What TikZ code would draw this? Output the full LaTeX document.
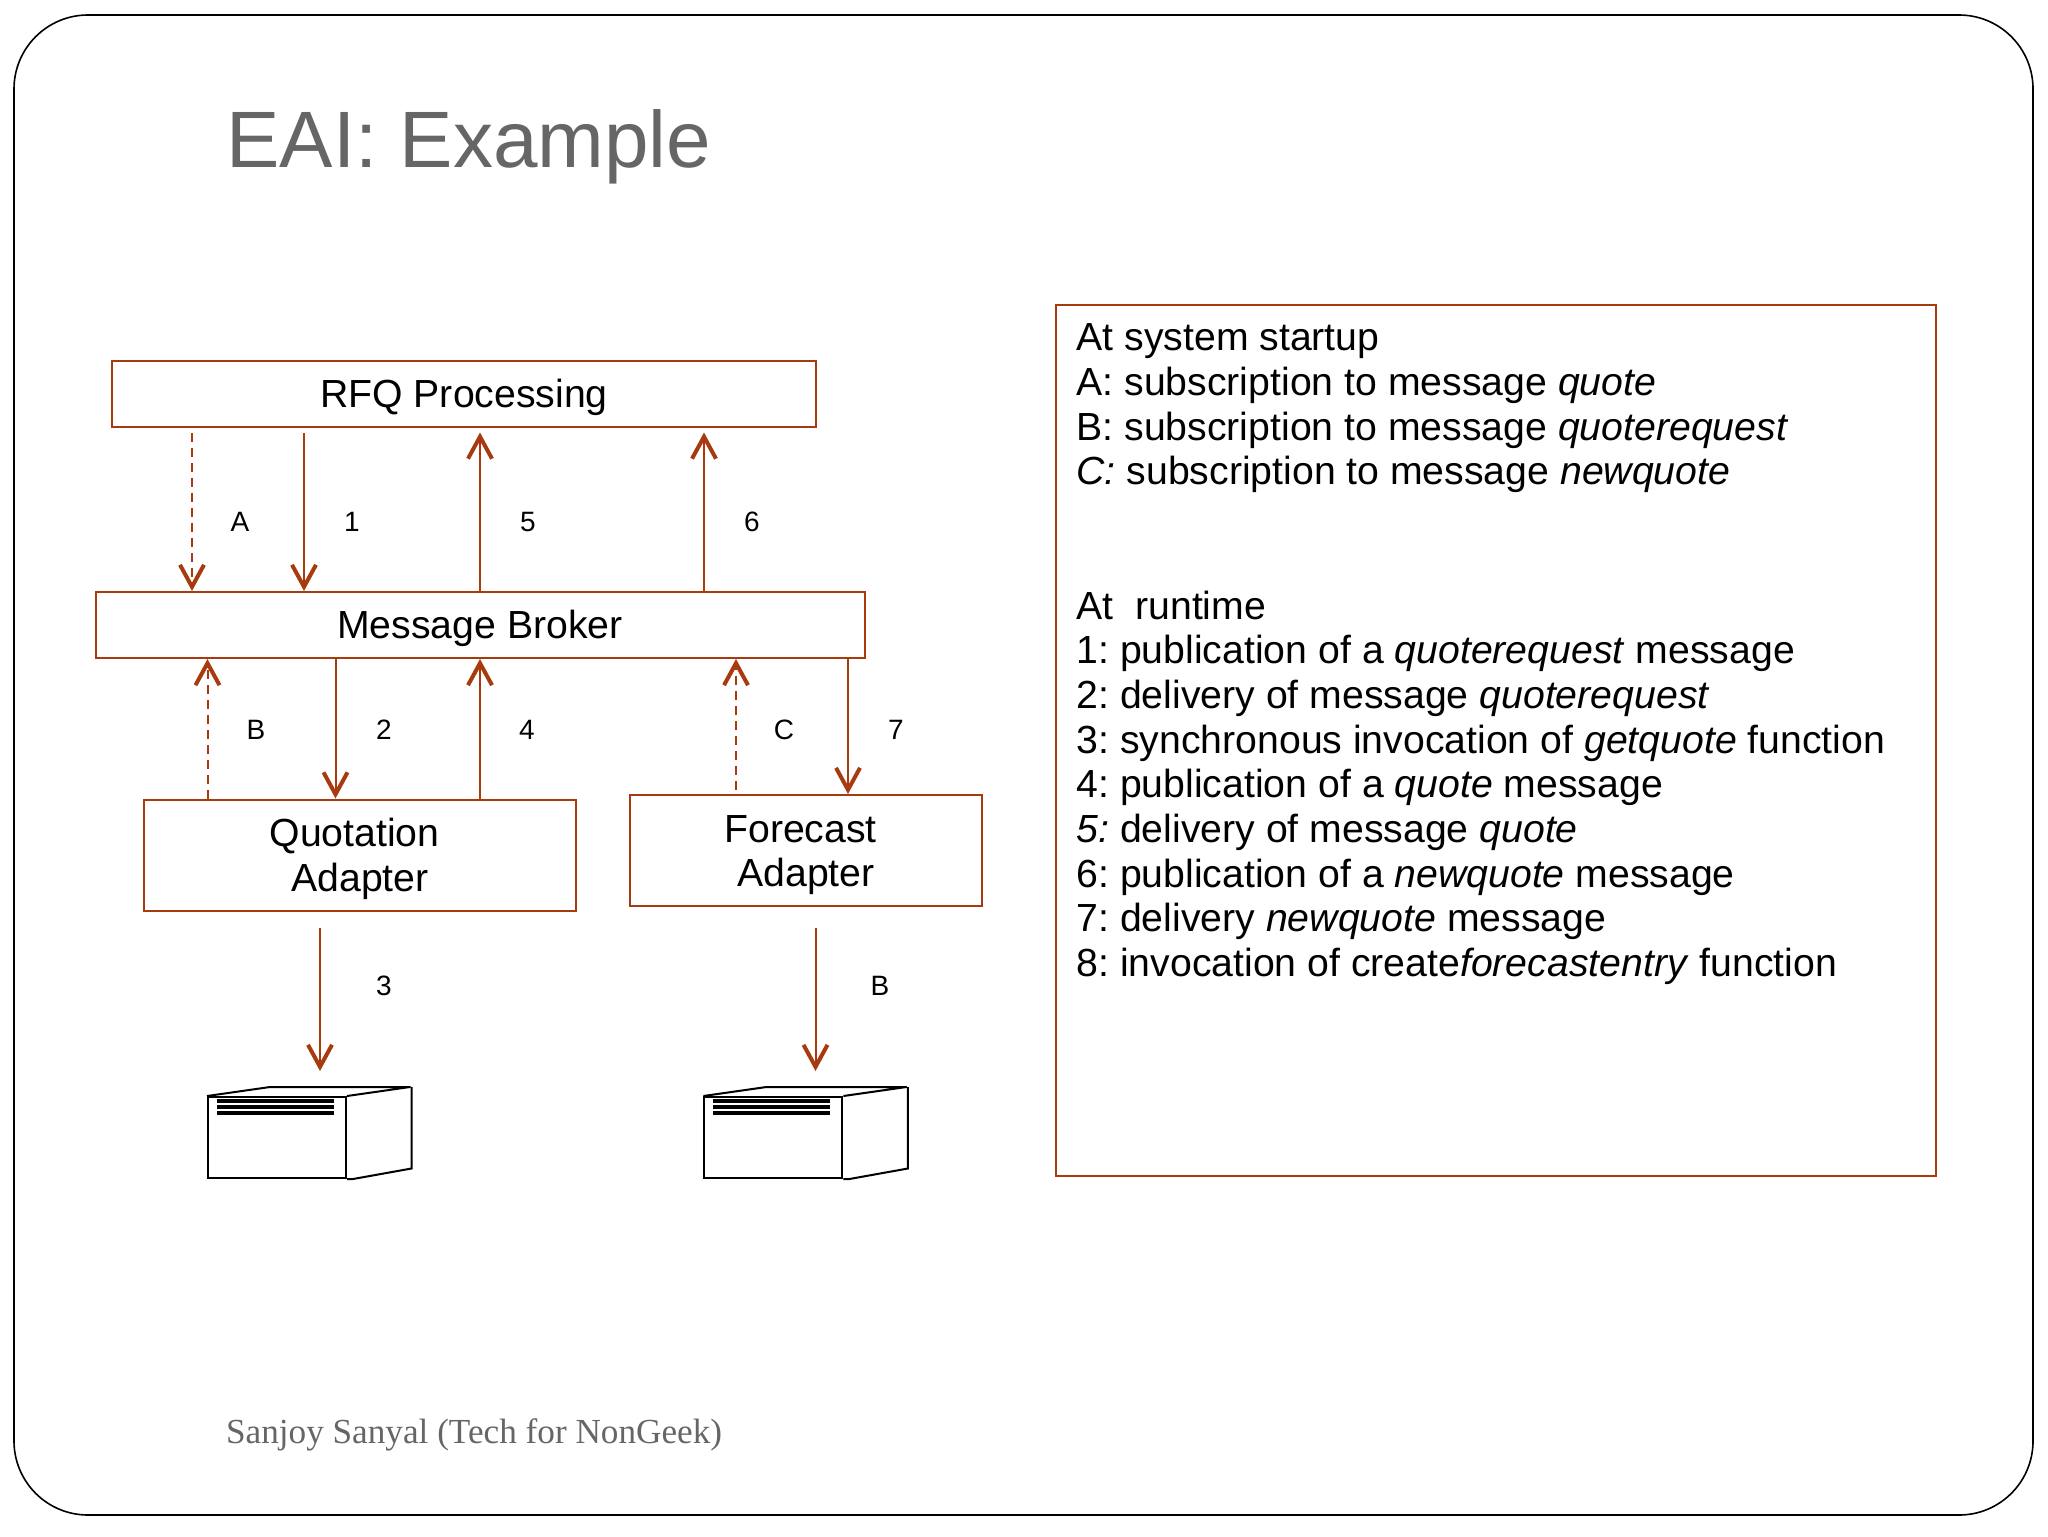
\documentclass[tikz,border=0pt]{standalone}
\usepackage{fontspec}
\setmainfont{Liberation Sans}
\newfontfamily\footfont{Liberation Serif}
\usetikzlibrary{arrows.meta}
\definecolor{rust}{HTML}{A83A10}
\definecolor{slidegray}{HTML}{666666}
\tikzset{
  box/.style={draw=rust,line width=1pt,inner sep=0pt,align=center,font=\fontsize{19.6}{22.35}\selectfont,text depth=4.2pt},
  oneline/.style={box,text height=18pt},
  twoline/.style={box,text height=40.5pt},
  flow/.style={draw=rust,line width=1pt,-{Straight Barb[length=11pt,width=12pt,line width=2pt]}},
  flowdash/.style={flow,dash pattern=on 4.5pt off 3pt},
  numlabel/.style={font=\fontsize{14}{16}\selectfont},
  serverface/.style={draw=black,line width=1pt,inner sep=0pt,minimum width=69pt,minimum height=40.5pt}
}
\begin{document}
\begin{tikzpicture}[x=0.5pt,y=-0.5pt]
\useasboundingbox (0,0) rectangle (2048,1536);
\draw[black,line width=0.8pt,rounded corners=37pt] (14,15) rectangle (2033,1515);
\node[text=slidegray,font=\fontsize{40}{48}\selectfont,anchor=base west] (title) at (219.5,167) {EAI: Example};
\node[text=slidegray,font=\footfont\fontsize{17.6}{22}\selectfont,anchor=base west] (foot) at (219,1443) {Sanjoy Sanyal (Tech for NonGeek)};
% boxes
\node[oneline,minimum width=352pt,minimum height=33pt] (rfq) at (464,393.5) {RFQ Processing};
\node[oneline,minimum width=384.5pt,minimum height=33pt] (broker) at (480,625) {Message Broker};
\node[twoline,minimum width=216pt,minimum height=55.5pt] (quotation) at (360,855) {Quotation\kern5.4pt\\Adapter};
\node[twoline,minimum width=176pt,minimum height=55.5pt] (forecast) at (806,850.5) {Forecast\kern5.4pt\\Adapter};
% right panel
\node[draw=rust,line width=1pt,inner sep=0pt,minimum width=440pt,minimum height=435.5pt] (panel) at (1496,740) {};
\node[anchor=north west,inner sep=0pt,align=left,font=\fontsize{19.6}{22.35}\selectfont\frenchspacing] (steps) at ([xshift=10.6pt,yshift=-10pt]panel.north west) {
At system startup\\
A: subscription to message \textit{quote}\\
B: subscription to message \textit{quoterequest}\\
\textit{C:} subscription to message \textit{newquote}\\[44.7pt]
At\ \ runtime\\
1: publication of a \textit{quoterequest} message\\
2: delivery of message \textit{quoterequest}\\
3: synchronous invocation of \textit{getquote} function\\
4: publication of a \textit{quote} message\\
\textit{5:} delivery of message \textit{quote}\\
6: publication of a \textit{newquote} message\\
7: delivery \textit{newquote} message\\
8: invocation of create\textit{forecastentry} function};
% servers
\foreach \srv/\xx in {srvq/277,srvf/773.4}{
  \node[serverface] (\srv) at (\xx,1137.5) {};
  \draw[black,line width=1pt,line join=round] (\srv.north west) -- ++(63,-9) -- ++(140,0) -- (\srv.north east);
  \draw[black,line width=1pt] (\srv.north east) ++(64.5,-9) -- ++(0,81.5) -- ([xshift=3pt]\srv.south east) -- (\srv.south east);
  \foreach \yy in {2.5,5.3,8.5}
    \draw[black,line width=1.9pt] ([xshift=5pt,yshift=-\yy pt]\srv.north west) -- ++(117,0);
}
% free ends of the connectors
\foreach \nm/\xx in {xa/192,xone/304,xb/207.5,xtwo/335.5,xfour/480,xc/736,xseven/848,xsix/704,xthree/320,xeight/815.5}
  \coordinate (\nm) at (\xx,0);
\draw[flowdash] ([yshift=-2.5pt]rfq.south -| xa) -- (broker.north -| xa);
\draw[flow] ([yshift=-2.5pt]rfq.south -| xone) -- (broker.north -| xone);
\draw[flow] (broker.north -| xfour) -- ([yshift=-2.5pt]rfq.south -| xfour);
\draw[flow] (broker.north -| xsix) -- ([yshift=-2.5pt]rfq.south -| xsix);
\draw[flowdash] (quotation.north -| xb) -- (broker.south -| xb);
\draw[flow] (broker.south -| xtwo) -- (quotation.north -| xtwo);
\draw[flow] (quotation.north -| xfour) -- (broker.south -| xfour);
\draw[flowdash] ([yshift=2pt]forecast.north -| xc) -- (broker.south -| xc);
\draw[flow] (broker.south -| xseven) -- (forecast.north -| xseven);
\draw[flow] ([yshift=-8.25pt]quotation.south -| xthree) -- ([yshift=12.5pt]srvq.north -| xthree);
\draw[flow] ([yshift=-10.5pt]forecast.south -| xeight) -- ([yshift=12.5pt]srvf.north -| xeight);
% labels
\foreach \nm/\lbl/\xx/\yy in {la/A/240/522,lone/1/352/522,lfive/5/528/522,lsix/6/752/522,lb/B/256/730,ltwo/2/384/730,lfour/4/527/730,lc/C/784/730,lseven/7/896/730,lthree/3/384/986,lbb/B/880/986}
  \node[numlabel] (\nm) at (\xx,\yy) {\lbl};
\end{tikzpicture}
\end{document}
